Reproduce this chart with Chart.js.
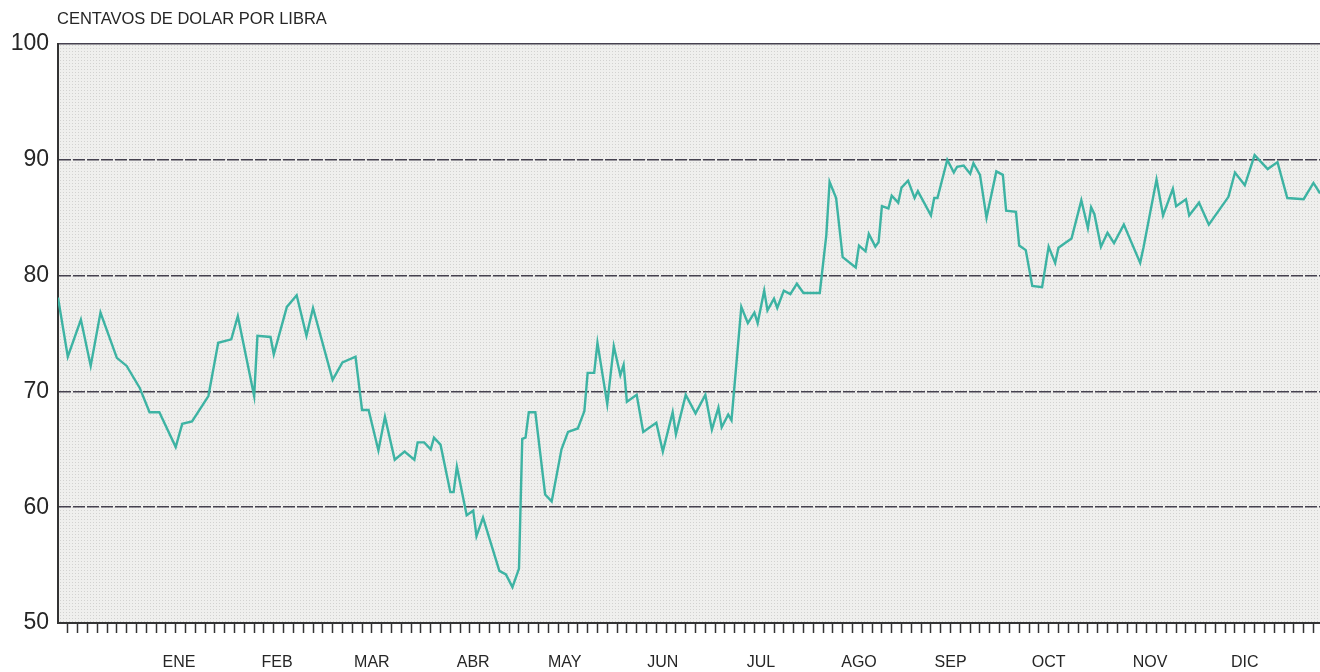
<!DOCTYPE html>
<html>
<head>
<meta charset="utf-8">
<script src="https://cdn.jsdelivr.net/npm/chart.js@4"></script>
<style>
html,body{margin:0;padding:0;background:#fff;}
#wrap{width:1320px;height:672px;position:relative;}
</style>
</head>
<body>
<div id="wrap"><canvas id="chart" width="1320" height="672"></canvas></div>
<script>
// data: day of the period / cents per pound
const dias = [0,3,7,10,13,18,21,25,28,31,36,38,41,46,49,53,55,60,61,65,66,70,73,76,78,84,87,91,93,95,
  98,100,103,106,109,110,112,114,115,117,120,121,122,125,127,128,130,135,137,139,141,142,143,144,146,149,151,154,156,159,
  161,162,164,165,168,170,172,173,174,177,179,183,185,188,189,192,195,198,200,202,203,205,206,209,211,213,214,216,217,219,
  220,222,224,226,228,233,235,236,238,240,244,245,247,248,250,251,252,254,255,257,258,260,262,263,267,268,269,272,274,275,
  277,279,280,282,284,287,289,290,293,294,296,298,301,303,305,306,310,313,315,316,317,319,321,323,326,331,332,336,338,341,
  342,345,346,349,352,358,360,363,366,370,373,376,381,384,386];
const precios = [78.1,73.0,76.2,72.2,76.8,72.9,72.2,70.3,68.2,68.2,65.2,67.2,67.4,69.6,74.2,74.5,76.5,69.6,74.8,74.7,73.2,77.3,78.3,74.8,77.2,71.0,72.5,73.0,68.4,68.4,
  64.9,67.8,64.1,64.8,64.1,65.6,65.6,65.0,66.0,65.4,61.3,61.3,63.5,59.3,59.7,57.5,59.1,54.5,54.2,53.1,54.7,65.9,66.0,68.2,68.2,61.1,60.5,65.0,66.5,66.8,
  68.3,71.6,71.6,74.2,68.9,73.9,71.4,72.3,69.1,69.7,66.5,67.3,64.8,68.2,66.3,69.7,68.1,69.7,66.7,68.6,66.9,68.0,67.5,77.3,75.9,76.8,75.9,78.7,77.0,78.0,
  77.2,78.7,78.4,79.3,78.5,78.5,83.5,88.1,86.7,81.6,80.7,82.6,82.1,83.6,82.5,82.9,86.0,85.8,86.9,86.3,87.6,88.2,86.7,87.3,85.2,86.7,86.7,90.0,88.9,89.4,
  89.5,88.8,89.7,88.7,85.0,89.0,88.7,85.6,85.5,82.6,82.2,79.1,79.0,82.5,81.1,82.4,83.2,86.5,84.1,85.9,85.3,82.5,83.7,82.8,84.4,81.1,82.4,88.3,85.2,87.5,
  86.0,86.6,85.2,86.3,84.4,86.8,88.9,87.8,90.4,89.2,89.8,86.7,86.6,88.0,87.1];
const meses = ['ENE','FEB','MAR','ABR','MAY','JUN','JUL','AGO','SEP','OCT','NOV','DIC'];
const diasMes = [37,67,96,127,155,185,215,245,273,303,334,363];
const yTicks = [50,60,70,80,90,100];
const titulo = 'CENTAVOS DE DOLAR POR LIBRA';
const diaMax = 386;

const font = "'Liberation Sans', Arial, Helvetica, sans-serif";
const ink = '#262626';
const gridInk = '#45414f';

function dotPattern(){
  const c = document.createElement('canvas'); c.width = 3; c.height = 3;
  const g = c.getContext('2d');
  g.fillStyle = '#efefed'; g.fillRect(0,0,3,3);
  g.fillStyle = '#d2d2d0'; g.fillRect(0,0,1,1);
  return g.createPattern(c,'repeat');
}

const fondo = {
  id:'fondo',
  beforeDraw(chart){
    const {ctx, chartArea:a} = chart;
    ctx.save();
    ctx.fillStyle = '#fff'; ctx.fillRect(0,0,chart.width,chart.height);
    ctx.fillStyle = dotPattern(); ctx.fillRect(a.left,a.top,a.right-a.left,a.bottom-a.top);
    ctx.restore();
  },
  afterDraw(chart){
    const {ctx, chartArea:a} = chart;
    ctx.save();
    ctx.font = '16.5px ' + font; ctx.fillStyle = ink; ctx.textBaseline = 'alphabetic';
    ctx.fillText(titulo, a.left - 1, 24);
    ctx.restore();
  }
};

new Chart(document.getElementById('chart'), {
  type:'line',
  data:{datasets:[{
    data: dias.map((d,i)=>({x:d, y:precios[i]})),
    borderColor:'#3db3a3', borderWidth:2.4, pointRadius:0, tension:0, fill:false
  }]},
  options:{
    responsive:false, animation:false, events:[],
    layout:{padding:{top:44,right:0,left:0,bottom:0}},
    plugins:{legend:{display:false}, tooltip:{enabled:false}},
    scales:{
      x:{
        type:'linear', min:0, max:diaMax, position:'bottom',
        afterBuildTicks(s){ const t=[]; for(let d=3; d<=diaMax; d+=3) t.push({value:d}); s.ticks=t; },
        afterFit(s){ s.height = 14; },
        ticks:{autoSkip:false, callback:()=>'', font:{size:1}},
        grid:{drawOnChartArea:false, drawTicks:true, tickLength:10, tickColor:'#333', tickWidth:1.5},
        border:{display:true, color:'#333', width:2}
      },
      x2:{
        type:'linear', min:0, max:diaMax, position:'bottom',
        afterBuildTicks(s){ s.ticks = diasMes.map(v=>({value:v})); },
        afterFit(s){ s.height = 35; },
        ticks:{autoSkip:false, maxRotation:0, padding:8, color:ink, font:{family:font, size:16},
          callback:(v)=>{ const i = diasMes.indexOf(v); return i>=0 ? meses[i] : ''; }},
        grid:{display:false}, border:{display:false}
      },
      y:{
        min:50, max:100,
        afterBuildTicks(s){ s.ticks = yTicks.map(v=>({value:v})); },
        afterFit(s){ s.width = 58; },
        ticks:{padding:9, color:ink, font:{family:font, size:23}},
        grid:{drawTicks:false, color:(c)=>c.tick && c.tick.value===50 ? 'rgba(0,0,0,0)' : gridInk, lineWidth:1.5},
        border:{display:true, color:'#333', width:2, dash:(c)=>c.tick && c.tick.value===100 ? [] : [12,2]}
      }
    }
  },
  plugins:[fondo]
});
</script>
</body>
</html>
